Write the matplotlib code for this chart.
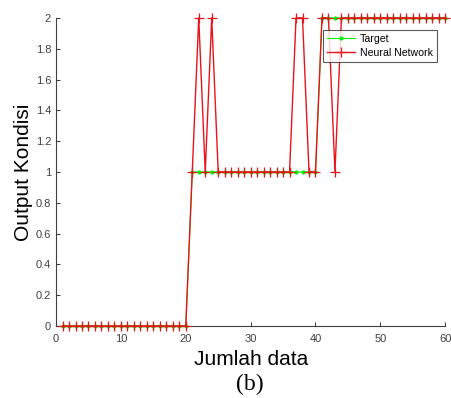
import numpy as np
import matplotlib.pyplot as plt

plt.rcParams['font.family'] = ['Liberation Sans', 'DejaVu Sans']

# data index 1..60
x = np.arange(1, 61)
target = [0] * 20 + [1] * 20 + [2] * 20
nn = list(target)
# misclassified points of the neural network
for i, v in [(22, 2), (24, 2), (37, 2), (38, 2), (43, 1)]:
    nn[i - 1] = v

fig = plt.figure(figsize=(4.52, 3.98), dpi=100)
ax = fig.add_axes([0.124, 0.181, 0.861, 0.774])

ax.plot(x, target, color='#00ee00', marker='.', markersize=4, linewidth=0.8,
        label='Target', zorder=3, clip_on=False)
ax.plot(x, nn, color='#e8141c', marker='+', markersize=7, markeredgewidth=0.9,
        linewidth=1, label='Neural Network', zorder=4, clip_on=False)

ax.set_xlim(0, 60)
ax.set_ylim(0, 2)
ax.set_xticks(np.arange(0, 61, 10))
ax.set_yticks(np.arange(0, 2.01, 0.2))
ax.set_yticklabels(['0', '0.2', '0.4', '0.6', '0.8', '1', '1.2', '1.4', '1.6', '1.8', '2'])

for s in ['top', 'right']:
    ax.spines[s].set_visible(False)
for s in ['left', 'bottom']:
    ax.spines[s].set_color('#404040')
    ax.spines[s].set_linewidth(0.8)
ax.tick_params(direction='in', length=3, width=0.8, colors='#404040', labelsize=8)
ax.tick_params(axis='x', pad=6)

ax.set_xlabel('Jumlah data', fontsize=15, labelpad=4)
ax.set_ylabel('Output Kondisi', fontsize=15, labelpad=2)

leg = ax.legend(loc='upper right', bbox_to_anchor=(0.979, 0.961), borderaxespad=0,
                fontsize=7.6, frameon=True, fancybox=False, edgecolor='#303030',
                handlelength=2.6, borderpad=0.4, labelspacing=0.35,
                handletextpad=0.5)
leg.get_frame().set_linewidth(0.8)
leg.set_zorder(5)

fig.text(0.553, 0.033, '(b)', family='Liberation Serif', fontsize=17, ha='center', va='center')

fig.savefig('out.png', dpi=100)
